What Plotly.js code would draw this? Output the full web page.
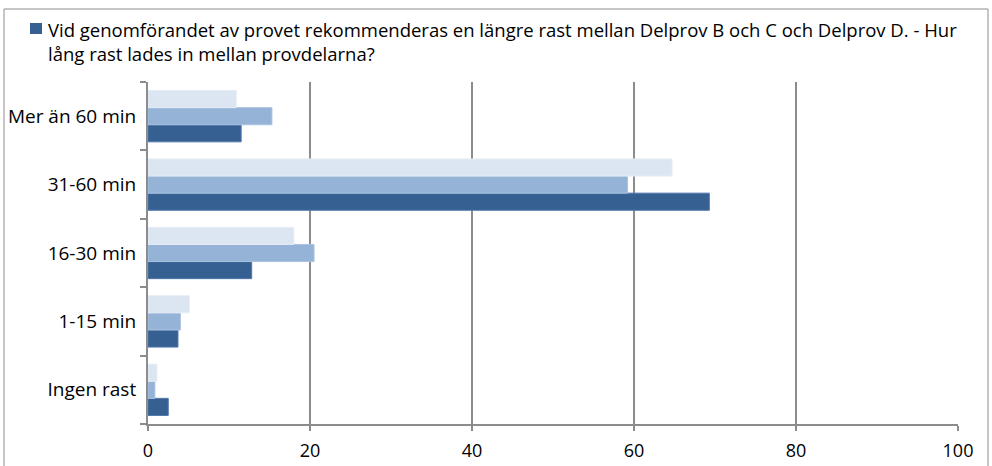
<!DOCTYPE html>
<html>
<head>
<meta charset="utf-8">
<script src="https://cdn.plot.ly/plotly-3.0.1.min.js"></script>
<style>html,body{margin:0;padding:0;background:#fff;}#chart{width:992px;height:466px;}</style>
</head>
<body>
<div id="chart"></div>
<script>
const categories = ['Ingen rast', '1-15 min', '16-30 min', '31-60 min', 'Mer än 60 min'];
const seriesDark = [2.5, 3.7, 12.8, 69.3, 11.5];
const seriesMedium = [0.85, 4.0, 20.5, 59.2, 15.3];
const seriesLight = [1.1, 5.1, 18.0, 64.7, 10.9];
const legendName = 'Vid genomförandet av provet rekommenderas en längre rast mellan Delprov B och C och Delprov D. - Hur<br>lång rast lades in mellan provdelarna?';
const xTicks = [0, 20, 40, 60, 80, 100];

const font = 'Open Sans, sans-serif';
const darkColor = '#376092';
const traces = [
  {type: 'bar', orientation: 'h', y: categories, x: seriesDark, name: legendName,
   marker: {color: darkColor, line: {color: '#4f77aa', width: 1}}},
  {type: 'bar', orientation: 'h', y: categories, x: seriesMedium, name: 'B',
   marker: {color: '#95b3d7', line: {color: '#a9c2df', width: 1}}},
  {type: 'bar', orientation: 'h', y: categories, x: seriesLight, name: 'C',
   marker: {color: '#dce6f2', line: {color: '#e4ecf5', width: 1}}}
];
const W = 810, H = 342, L = 148, T = 82;
const px = v => (v - L) / W;
const py = v => (T + H - v) / H;
const layout = {
  width: 992, height: 466,
  margin: {l: L, r: 992 - L - W, t: T, b: 466 - T - H, pad: 0},
  paper_bgcolor: '#ffffff', plot_bgcolor: '#ffffff',
  barmode: 'group', bargap: 0.25, bargroupgap: 0,
  font: {family: font, size: 18, color: '#000'},
  showlegend: false,
  xaxis: {range: [0, 100], tickvals: xTicks, ticktext: xTicks.map(String), showgrid: true,
    gridcolor: '#8c8c8c', gridwidth: 2, zeroline: false, showline: true, linecolor: '#8c8c8c', linewidth: 2,
    ticks: 'outside', ticklen: 5, tickcolor: '#8c8c8c', tickwidth: 2, ticklabelstandoff: 4,
    tickfont: {family: font, size: 18, color: '#000'}, fixedrange: true},
  yaxis: {categoryorder: 'array', categoryarray: categories, showgrid: false, zeroline: false,
    showline: true, linecolor: '#8c8c8c', linewidth: 2, ticks: 'outside', tickson: 'boundaries',
    ticklen: 6, tickcolor: '#8c8c8c', tickwidth: 2, ticklabelstandoff: 6,
    tickfont: {family: font, size: 19, color: '#000'}, fixedrange: true},
  annotations: [{xref: 'paper', yref: 'paper', x: px(46), y: py(15), xanchor: 'left', yanchor: 'top',
    text: legendName, showarrow: false, align: 'left', font: {family: font, size: 18.5, color: '#000'}}],
  shapes: [
    {type: 'rect', xref: 'paper', yref: 'paper',
     x0: px(4), x1: px(988), y0: py(475), y1: py(9),
     line: {color: '#8c8c8c', width: 1}, fillcolor: 'rgba(0,0,0,0)', layer: 'below'},
    {type: 'rect', xref: 'paper', yref: 'paper',
     x0: px(30), x1: px(42), y0: py(34), y1: py(23),
     line: {width: 0}, fillcolor: darkColor}
  ]
};
Plotly.newPlot('chart', traces, layout, {displayModeBar: false, staticPlot: true});
</script>
</body>
</html>
